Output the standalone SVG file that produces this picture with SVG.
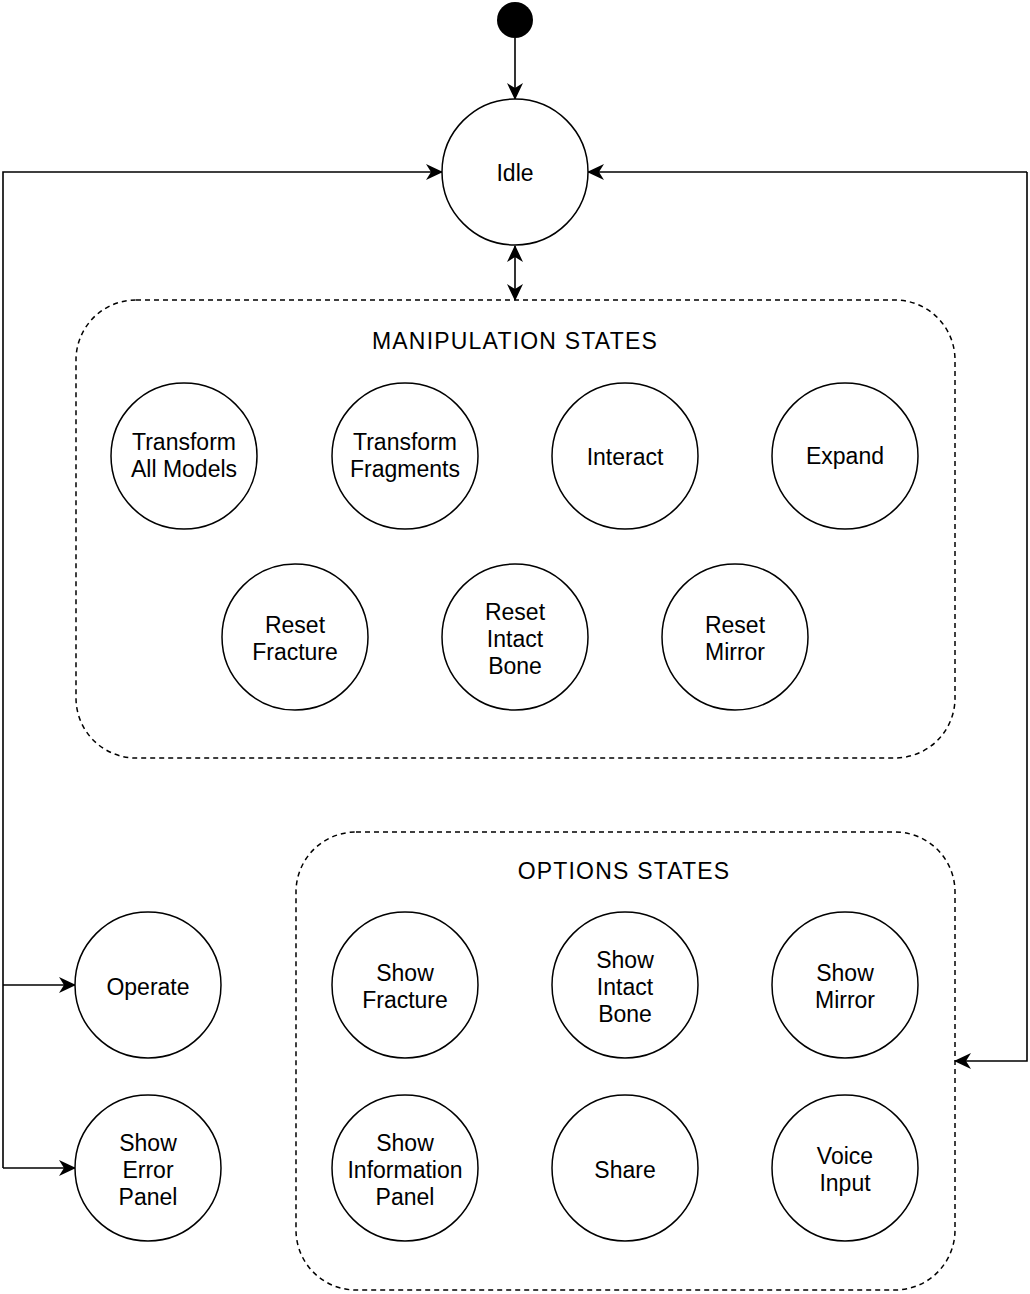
<svg xmlns="http://www.w3.org/2000/svg" width="1030" height="1294" viewBox="0 0 1030 1294">
<style>
  .st circle{fill:#fff;stroke:#000;stroke-width:1.5}
  text{font-family:"Liberation Sans",Arial,sans-serif;font-size:23px;fill:#000;text-anchor:middle}
  .title{letter-spacing:1.2px}
  .box{fill:none;stroke:#000;stroke-width:1.5;stroke-dasharray:5 4}
  .edge{fill:none;stroke:#000;stroke-width:1.6}
</style>
<defs>
  <marker id="arr" viewBox="0 0 17 16" refX="16" refY="8" markerWidth="17" markerHeight="16" markerUnits="userSpaceOnUse" orient="auto-start-reverse">
    <path d="M0,0 L17,8 L0,16 L5,8 Z" fill="#000"/>
  </marker>
</defs>
<rect x="0" y="0" width="1030" height="1294" fill="#fff"/>

<g id="manipulation-group">
  <rect class="box" x="76" y="300" width="879" height="458" rx="60" ry="60"/>
  <text class="title" x="515" y="349">MANIPULATION STATES</text>
</g>
<g id="options-group">
  <rect class="box" x="296" y="832" width="659" height="458" rx="60" ry="60"/>
  <text class="title" x="624" y="879">OPTIONS STATES</text>
</g>

<g id="connectors">
  <path class="edge" d="M515,38 V99" marker-end="url(#arr)"/>
  <path class="edge" d="M515,246 V300" marker-start="url(#arr)" marker-end="url(#arr)"/>
  <path class="edge" d="M3,1168 V172 H442" marker-end="url(#arr)"/>
  <path class="edge" d="M3,985 H75" marker-end="url(#arr)"/>
  <path class="edge" d="M3,1168 H75" marker-end="url(#arr)"/>
  <path class="edge" d="M1027,172 H588" marker-end="url(#arr)"/>
  <path class="edge" d="M1027,172 V1061 H955" marker-end="url(#arr)"/>
</g>

<g id="start"><circle cx="515" cy="20" r="18" fill="#000"/></g>

<g id="idle" class="st"><circle cx="515" cy="172" r="73"/><text x="515" y="181">Idle</text></g>

<g id="transform-all-models" class="st"><circle cx="184" cy="456" r="73"/><text x="184" y="450">Transform</text><text x="184" y="477">All Models</text></g>
<g id="transform-fragments" class="st"><circle cx="405" cy="456" r="73"/><text x="405" y="450">Transform</text><text x="405" y="477">Fragments</text></g>
<g id="interact" class="st"><circle cx="625" cy="456" r="73"/><text x="625" y="465">Interact</text></g>
<g id="expand" class="st"><circle cx="845" cy="456" r="73"/><text x="845" y="464">Expand</text></g>

<g id="reset-fracture" class="st"><circle cx="295" cy="637" r="73"/><text x="295" y="633">Reset</text><text x="295" y="660">Fracture</text></g>
<g id="reset-intact-bone" class="st"><circle cx="515" cy="637" r="73"/><text x="515" y="620">Reset</text><text x="515" y="647">Intact</text><text x="515" y="674">Bone</text></g>
<g id="reset-mirror" class="st"><circle cx="735" cy="637" r="73"/><text x="735" y="633">Reset</text><text x="735" y="660">Mirror</text></g>

<g id="operate" class="st"><circle cx="148" cy="985" r="73"/><text x="148" y="995">Operate</text></g>
<g id="show-error-panel" class="st"><circle cx="148" cy="1168" r="73"/><text x="148" y="1151">Show</text><text x="148" y="1178">Error</text><text x="148" y="1205">Panel</text></g>

<g id="show-fracture" class="st"><circle cx="405" cy="985" r="73"/><text x="405" y="981">Show</text><text x="405" y="1008">Fracture</text></g>
<g id="show-intact-bone" class="st"><circle cx="625" cy="985" r="73"/><text x="625" y="968">Show</text><text x="625" y="995">Intact</text><text x="625" y="1022">Bone</text></g>
<g id="show-mirror" class="st"><circle cx="845" cy="985" r="73"/><text x="845" y="981">Show</text><text x="845" y="1008">Mirror</text></g>

<g id="show-information-panel" class="st"><circle cx="405" cy="1168" r="73"/><text x="405" y="1151">Show</text><text x="405" y="1178">Information</text><text x="405" y="1205">Panel</text></g>
<g id="share" class="st"><circle cx="625" cy="1168" r="73"/><text x="625" y="1178">Share</text></g>
<g id="voice-input" class="st"><circle cx="845" cy="1168" r="73"/><text x="845" y="1164">Voice</text><text x="845" y="1191">Input</text></g>
</svg>
